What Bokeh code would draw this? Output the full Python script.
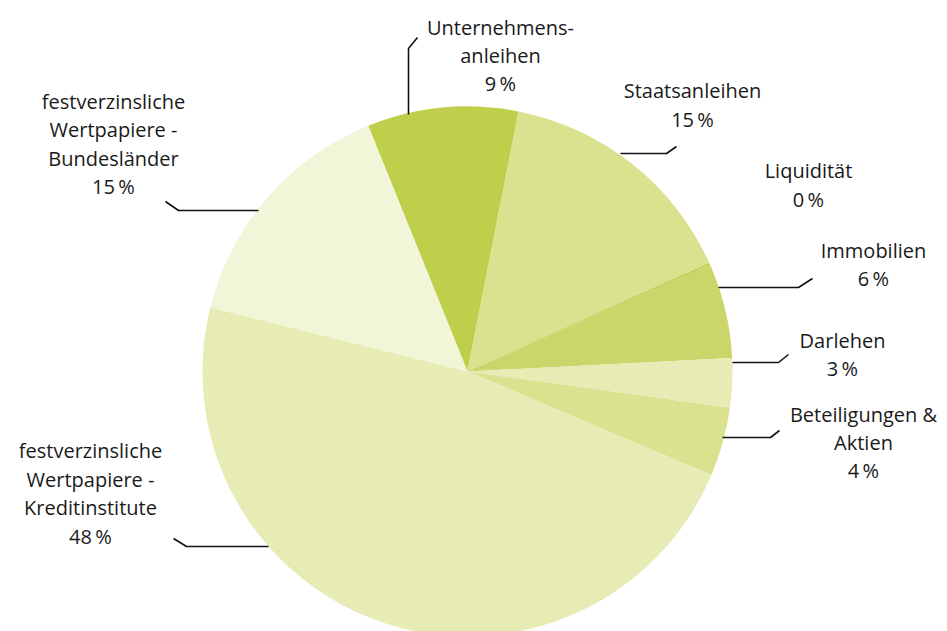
import numpy as np
from bokeh.plotting import figure
from bokeh.models import Range1d, ColumnDataSource
from bokeh.core.properties import value
from bokeh.embed import file_html
from bokeh.resources import INLINE

# ---- data ----
categories = ["Unternehmens-\nanleihen", "Staatsanleihen", "Liquidität", "Immobilien",
              "Darlehen", "Beteiligungen &\nAktien",
              "festverzinsliche\nWertpapiere -\nKreditinstitute",
              "festverzinsliche\nWertpapiere -\nBundesländer"]
shares = [9.2, 15.2, 0.1, 5.8, 3.0, 4.2, 47.5, 15.0]
pct_labels = ["9", "15", "0", "6", "3", "4", "48", "15"]
colors = ["#C0CF4B", "#DAE290", "#B8C83E", "#CBD66A", "#E6ECB3", "#DAE290", "#E6ECB3", "#F2F6D8"]

# ---- layout (pixel positions of the page) ----
W, H = 947, 631
def dx(px): return px
def dy(py): return H - py

cx, cy, R = 467, 371, 265
start_theta = -22.0  # degrees clockwise from 12 o'clock

label_pos = [(500, 55), (692, 104.5), (808, 184.5), (873, 264), (842, 354),
             (863, 442), (90, 493), (113, 143.5)]
leaders = [
    [(408, 114), (408, 48), (417, 37)],
    [(620, 153), (666, 153), (676, 146)],
    None,
    [(718, 287), (798, 287), (812, 278)],
    [(732, 362), (778, 362), (788, 354)],
    [(722, 437), (770, 437), (779, 430)],
    [(268, 546), (186, 546), (173, 538)],
    [(258, 210), (178, 210), (165, 201)],
]

p = figure(width=W, height=H, output_backend="svg", toolbar_location=None,
           x_range=Range1d(0, W), y_range=Range1d(0, H), min_border=0)
p.axis.visible = False
p.grid.visible = False
p.outline_line_color = None
p.background_fill_color = "white"

vals = np.array(shares, dtype=float)
deg = vals / vals.sum() * 360.0
ends = start_theta + np.cumsum(deg)
starts = ends - deg
src = ColumnDataSource(dict(
    x=[dx(cx)] * len(vals), y=[dy(cy)] * len(vals),
    start=np.radians(90 - starts), end=np.radians(90 - ends),
    color=colors))
p.wedge(x="x", y="y", radius=R, start_angle="start", end_angle="end",
        direction="clock", fill_color="color", line_color=None, source=src)

for pts in leaders:
    if pts is None:
        continue
    p.line([dx(a) for a, b in pts], [dy(b) for a, b in pts], line_color="#111111", line_width=1.6)

texts = [c + "\n" + v + "\u2009%" for c, v in zip(categories, pct_labels)]
p.text(x=[dx(a) for a, b in label_pos], y=[dy(b) for a, b in label_pos], text=texts,
       text_font=value("Open Sans"), text_font_size="20px", text_color="#1a1a1a",
       text_align="center", text_baseline="middle", text_line_height=1.05)

open("out.html", "w").write(file_html(p, INLINE))
